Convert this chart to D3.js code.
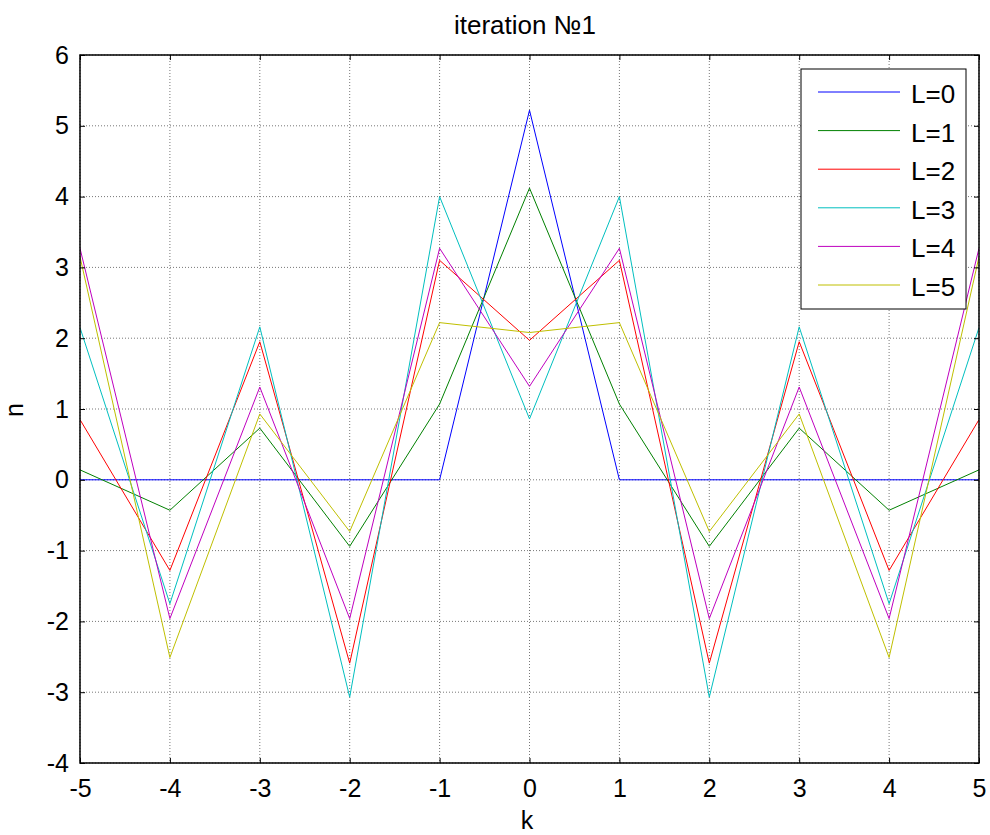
<!DOCTYPE html>
<html><head><meta charset="utf-8">
<script src="https://cdn.jsdelivr.net/npm/d3@7"></script>
<style>body{margin:0;background:#fff;}svg{display:block;}</style>
</head><body>
<script>
const ks = [-5,-4,-3,-2,-1,0,1,2,3,4,5];
const L0 = [0,0,0,0,0,5.22,0,0,0,0,0];
const L1 = [0.14,-0.43,0.73,-0.94,1.07,4.12,1.07,-0.94,0.73,-0.43,0.14];
const L2 = [0.85,-1.28,1.95,-2.59,3.10,1.97,3.10,-2.59,1.95,-1.28,0.85];
const L3 = [2.15,-1.75,2.16,-3.07,4.00,0.86,4.00,-3.07,2.16,-1.75,2.15];
const L4 = [3.27,-1.96,1.31,-1.96,3.27,1.32,3.27,-1.96,1.31,-1.96,3.27];
const L5 = [3.15,-2.51,0.93,-0.73,2.22,2.08,2.22,-0.73,0.93,-2.51,3.15];
const seriesNames = ["L=0","L=1","L=2","L=3","L=4","L=5"];
const seriesColors = ["#0000ff","#008000","#ff0000","#00bfbf","#bf00bf","#bfbf00"];
const seriesData = [L0,L1,L2,L3,L4,L5];
const xTicks = [-5,-4,-3,-2,-1,0,1,2,3,4,5];
const yTicks = [-4,-3,-2,-1,0,1,2,3,4,5,6];

(function(){
const W=990,H=835;
const pL=80,pR=979,pT=55,pB=763;
const svg=d3.select("body").append("svg").attr("width",W).attr("height",H);
const x=d3.scaleLinear().domain([-5,5]).range([pL,pR]);
const y=d3.scaleLinear().domain([-4,6]).range([pB,pT]);
const font="Liberation Sans, Arial, sans-serif";

// grid
const g=svg.append("g");
xTicks.forEach(t=>g.append("line").attr("x1",x(t)).attr("x2",x(t)).attr("y1",pT).attr("y2",pB)
  .attr("stroke","#777").attr("stroke-width",1).attr("stroke-dasharray","1,2"));
yTicks.forEach(t=>g.append("line").attr("x1",pL).attr("x2",pR).attr("y1",y(t)).attr("y2",y(t))
  .attr("stroke","#777").attr("stroke-width",1).attr("stroke-dasharray","1,2"));

// lines
svg.append("clipPath").attr("id","c").append("rect").attr("x",pL).attr("y",pT).attr("width",pR-pL).attr("height",pB-pT);
const line=d3.line().x((d,i)=>x(ks[i])).y(d=>y(d));
seriesData.forEach((s,i)=>{
  svg.append("path").datum(s).attr("d",line).attr("fill","none").attr("stroke",seriesColors[i]).attr("stroke-width",1).attr("clip-path","url(#c)");
});

// axes
const fmt=d=>String(d);
const ax=svg.append("g").attr("font-family",font);
const xb=d3.axisBottom(x).tickValues(xTicks).tickSize(-5).tickPadding(16).tickFormat(fmt);
const xt=d3.axisTop(x).tickValues(xTicks).tickSize(-5).tickFormat("");
const yl=d3.axisLeft(y).tickValues(yTicks).tickSize(-5).tickPadding(11).tickFormat(fmt);
const yr=d3.axisRight(y).tickValues(yTicks).tickSize(-5).tickFormat("");
function style(sel){sel.select(".domain").remove();sel.selectAll("line").attr("stroke","#000");sel.selectAll("text").attr("font-size",25).attr("fill","#000").attr("font-family",font);}
ax.append("g").attr("transform",`translate(0,${pB})`).call(xb).call(style);
ax.append("g").attr("transform",`translate(0,${pT})`).call(xt).call(style);
ax.append("g").attr("transform",`translate(${pL},0)`).call(yl).call(style);
ax.append("g").attr("transform",`translate(${pR},0)`).call(yr).call(style);
svg.append("rect").attr("x",pL).attr("y",pT).attr("width",pR-pL).attr("height",pB-pT).attr("fill","none").attr("stroke","#000").attr("stroke-width",1.5);

// labels
svg.append("text").attr("x",525).attr("y",34).attr("text-anchor","middle").attr("font-family",font).attr("font-size",26).text("iteration №1");
svg.append("text").attr("x",527).attr("y",829).attr("text-anchor","middle").attr("font-family",font).attr("font-size",25).text("k");
svg.append("text").attr("transform",`translate(23,410) rotate(-90)`).attr("text-anchor","middle").attr("font-family",font).attr("font-size",25).text("n");

// legend
const lg=svg.append("g");
lg.append("rect").attr("x",801).attr("y",69).attr("width",165).attr("height",240).attr("fill","#fff").attr("stroke","#000").attr("stroke-width",1);
seriesNames.forEach((n,i)=>{
  const yy=92+i*38.6;
  lg.append("line").attr("x1",818).attr("x2",900).attr("y1",yy).attr("y2",yy).attr("stroke",seriesColors[i]).attr("stroke-width",1);
  lg.append("text").attr("x",911).attr("y",yy+11).attr("font-family",font).attr("font-size",26).text(n);
});
})();
</script>
</body></html>
